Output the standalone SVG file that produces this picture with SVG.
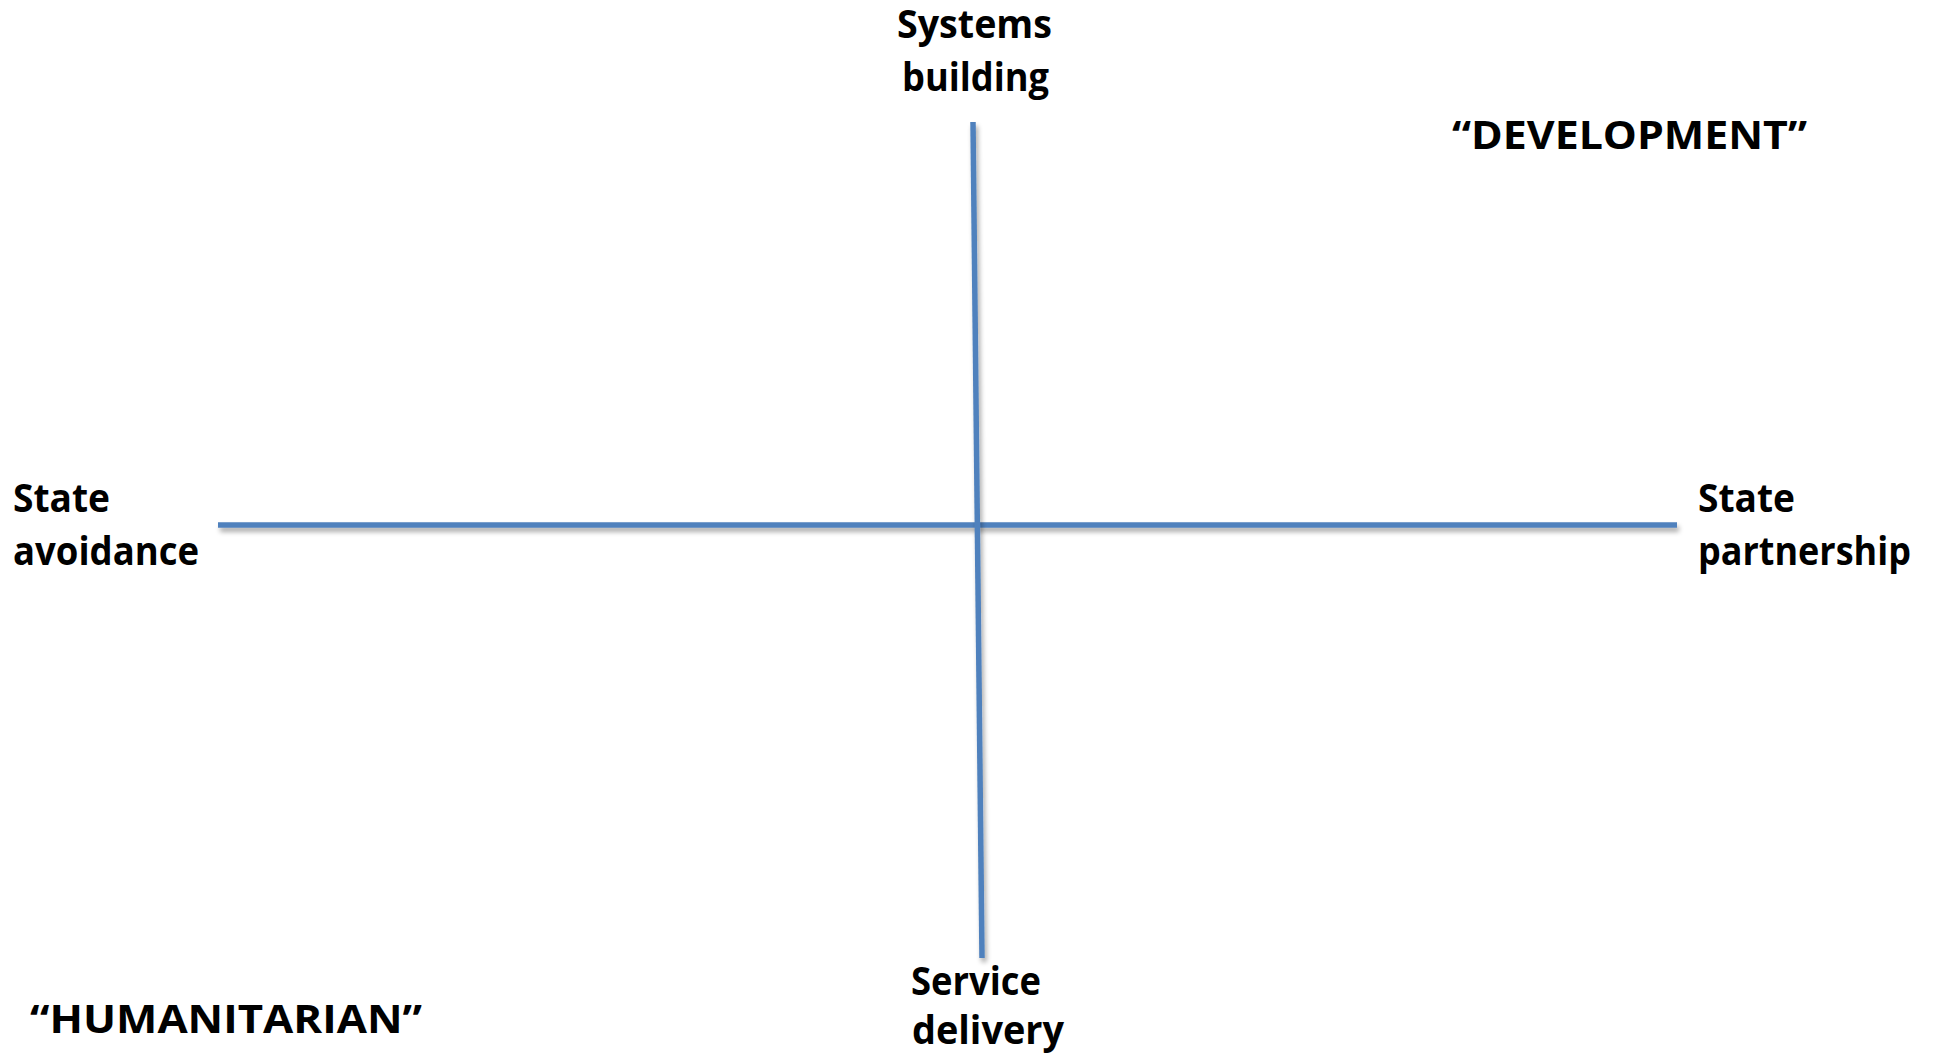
<svg xmlns="http://www.w3.org/2000/svg" width="1937" height="1053" viewBox="0 0 1937 1053">
<style>
.lbl{font-family:"Open Sans","Liberation Sans",sans-serif;font-weight:700;font-size:38.5px;fill:#000}
.axis{stroke:#4F81BD;stroke-width:5.5;fill:none;filter:url(#sh)}
</style>
<defs>
<filter id="sh" filterUnits="userSpaceOnUse" x="0" y="0" width="1937" height="1053">
<feGaussianBlur in="SourceAlpha" stdDeviation="2.5"/>
<feOffset dx="2" dy="4" result="b"/>
<feComponentTransfer><feFuncA type="linear" slope="0.35"/></feComponentTransfer>
<feMerge><feMergeNode/><feMergeNode in="SourceGraphic"/></feMerge>
</filter>
</defs>
<rect width="1937" height="1053" fill="#fff"/>
<g id="connectors">
<line class="axis" x1="218" y1="525" x2="1677" y2="525"/>
<line class="axis" x1="973" y1="122" x2="982" y2="958"/>
</g>
<g id="systems-building"><text class="lbl"><tspan x="897" y="38" textLength="155" lengthAdjust="spacingAndGlyphs">Systems</tspan><tspan x="902" y="91" textLength="147" lengthAdjust="spacingAndGlyphs">building</tspan></text></g>
<g id="state-avoidance"><text class="lbl"><tspan x="13" y="512" textLength="97" lengthAdjust="spacingAndGlyphs">State</tspan><tspan x="13" y="565" textLength="186" lengthAdjust="spacingAndGlyphs">avoidance</tspan></text></g>
<g id="state-partnership"><text class="lbl"><tspan x="1698" y="512" textLength="97" lengthAdjust="spacingAndGlyphs">State</tspan><tspan x="1698" y="565" textLength="213" lengthAdjust="spacingAndGlyphs">partnership</tspan></text></g>
<g id="service-delivery"><text class="lbl"><tspan x="911" y="995" textLength="130" lengthAdjust="spacingAndGlyphs">Service</tspan><tspan x="912" y="1044" textLength="152" lengthAdjust="spacingAndGlyphs">delivery</tspan></text></g>
<g id="development"><text class="lbl" x="1452" y="149" textLength="355" lengthAdjust="spacingAndGlyphs">“DEVELOPMENT”</text></g>
<g id="humanitarian"><text class="lbl" x="30" y="1033" textLength="392" lengthAdjust="spacingAndGlyphs">“HUMANITARIAN”</text></g>
</svg>
